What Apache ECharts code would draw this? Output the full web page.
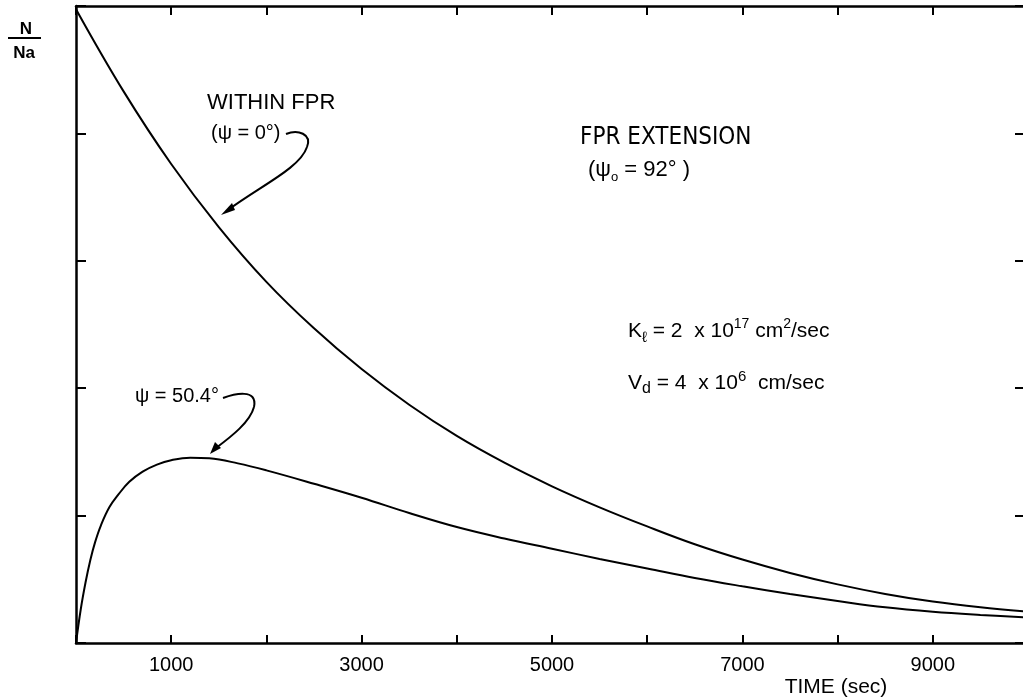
<!DOCTYPE html>
<html>
<head>
<meta charset="utf-8">
<script src="https://cdn.jsdelivr.net/npm/echarts@6/dist/echarts.min.js"></script>
<style>
html,body{margin:0;padding:0;background:#fff;}
#c{width:1023px;height:699px;}
</style>
</head>
<body>
<div id="c"></div>
<script>
// ---- data ----
const xTickLabels = [1000, 3000, 5000, 7000, 9000];
const upperTime = [0, 500, 1000, 1500, 2000, 2500, 3000, 3500, 4000, 4500, 5000, 5500, 6000, 6500, 7000, 7500, 8000, 8500, 9000, 9500, 10000];
const upperN    = [0.995, 0.866, 0.752, 0.653, 0.567, 0.494, 0.430, 0.374, 0.325, 0.283, 0.246, 0.213, 0.183, 0.155, 0.131, 0.110, 0.092, 0.077, 0.065, 0.056, 0.049];
const lowerTime = [0, 50, 100, 150, 200, 260, 350, 450, 560, 700, 850, 1000, 1200, 1400, 1700, 2000, 2500, 3000, 3500, 4000, 4500, 5000, 5500, 6000, 6500, 7000, 7500, 8000, 8500, 9000, 9500, 10000];
const lowerN    = [0, 0.053, 0.095, 0.130, 0.158, 0.184, 0.213, 0.234, 0.253, 0.269, 0.280, 0.287, 0.291, 0.290, 0.282, 0.271, 0.250, 0.228, 0.204, 0.182, 0.164, 0.148, 0.132, 0.117, 0.102, 0.089, 0.077, 0.066, 0.056, 0.049, 0.044, 0.040];

const zip = (a, b) => a.map((v, i) => [v, b[i]]);
const FONT = '"Liberation Sans", Arial, sans-serif';
const NARROW = '"Liberation Sans Narrow", "DejaVu Sans Condensed", "Liberation Sans", sans-serif';

const chart = echarts.init(document.getElementById('c'), null, {renderer: 'canvas'});

const axisLine = {show: true, onZero: false, lineStyle: {color: '#000', width: 2.5}};
const tick = (len) => ({show: true, inside: true, length: len, lineStyle: {color: '#000', width: 2}});

chart.setOption({
  backgroundColor: '#fff',
  animation: false,
  grid: {left: 76, top: 6, width: 952, height: 637, containLabel: false, outerBoundsMode: 'none'},
  xAxis: [
    {type: 'value', position: 'bottom', min: 0, max: 10000, interval: 1000,
     axisLine: axisLine, axisTick: tick(8), splitLine: {show: false},
     axisLabel: {margin: 12, color: '#000', fontSize: 20, fontFamily: FONT,
       formatter: v => xTickLabels.includes(v) ? String(v) : ''}},
    {type: 'value', position: 'top', min: 0, max: 10000, interval: 1000,
     axisLine: axisLine, axisTick: tick(9), splitLine: {show: false}, axisLabel: {show: false}}
  ],
  yAxis: [
    {type: 'value', position: 'left', min: 0, max: 1, interval: 0.2,
     axisLine: axisLine, axisTick: tick(10), splitLine: {show: false}, axisLabel: {show: false}},
    {type: 'value', position: 'right', min: 0, max: 1, interval: 0.2,
     axisLine: {show: false, onZero: false}, axisTick: tick(13), splitLine: {show: false}, axisLabel: {show: false}}
  ],
  series: [
    {type: 'line', name: 'WITHIN FPR (ψ = 0°)', data: zip(upperTime, upperN), xAxisIndex: 0, yAxisIndex: 0,
     showSymbol: false, smooth: 0.4, lineStyle: {color: '#000', width: 2}},
    {type: 'line', name: 'ψ = 50.4°', data: zip(lowerTime, lowerN), xAxisIndex: 0, yAxisIndex: 0,
     showSymbol: false, smooth: 0.4, lineStyle: {color: '#000', width: 2}}
  ],
  graphic: [
    // y-axis label N / Na
    {type: 'text', x: 26, y: 29, style: {text: 'N', font: 'bold 17px ' + FONT, fill: '#000', textAlign: 'center', textVerticalAlign: 'middle'}},
    {type: 'line', shape: {x1: 8, y1: 38, x2: 41, y2: 38}, style: {stroke: '#000', lineWidth: 2}},
    {type: 'text', x: 24, y: 53, style: {text: 'Na', font: 'bold 17px ' + FONT, fill: '#000', textAlign: 'center', textVerticalAlign: 'middle'}},
    // WITHIN FPR
    {type: 'text', x: 207, y: 103, style: {text: 'WITHIN FPR', font: '22px ' + FONT, fill: '#000', textAlign: 'left', textVerticalAlign: 'middle'}},
    {type: 'text', x: 211, y: 133, style: {text: '(ψ = 0°)', font: '20px ' + FONT, fill: '#000', textAlign: 'left', textVerticalAlign: 'middle'}},
    {type: 'bezierCurve', shape: {x1: 286, y1: 134, cpx1: 298, cpy1: 129, cpx2: 312, cpy2: 134, x2: 307, y2: 147}, style: {stroke: '#000', lineWidth: 2, fill: null}},
    {type: 'bezierCurve', shape: {x1: 307, y1: 147, cpx1: 300, cpy1: 168, cpx2: 262, cpy2: 185, x2: 228, y2: 210}, style: {stroke: '#000', lineWidth: 2, fill: null}},
    {type: 'polygon', shape: {points: [[221, 215], [232, 203], [235, 210]]}, style: {fill: '#000'}},
    // psi = 50.4
    {type: 'text', x: 135, y: 396, style: {text: 'ψ = 50.4°', font: '20px ' + FONT, fill: '#000', textAlign: 'left', textVerticalAlign: 'middle'}},
    {type: 'bezierCurve', shape: {x1: 223, y1: 398, cpx1: 234, cpy1: 394, cpx2: 258, cpy2: 388, x2: 254, y2: 407}, style: {stroke: '#000', lineWidth: 2, fill: null}},
    {type: 'bezierCurve', shape: {x1: 254, y1: 407, cpx1: 250, cpy1: 422, cpx2: 232, cpy2: 436, x2: 216, y2: 448}, style: {stroke: '#000', lineWidth: 2, fill: null}},
    {type: 'polygon', shape: {points: [[210, 454], [215, 442], [221, 448]]}, style: {fill: '#000'}},
    // FPR EXTENSION
    {type: 'text', x: 580, y: 138, style: {text: 'FPR EXTENSION', font: '24px ' + NARROW, fill: '#000', textAlign: 'left', textVerticalAlign: 'middle'}},
    {type: 'text', x: 588, y: 170, style: {
      text: '{a|(ψ}{s|o}{a| = 92° )}', fill: '#000', textVerticalAlign: 'middle', textAlign: 'left',
      rich: {a: {fontSize: 22, fontFamily: FONT, lineHeight: 28, verticalAlign: 'middle', fill: '#000'},
             s: {fontSize: 13, fontFamily: FONT, lineHeight: 12, verticalAlign: 'bottom', fill: '#000'}}}},
    // K and Vd
    {type: 'text', x: 628, y: 331, style: {
      text: '{a|K}{s|ℓ}{a| = 2  x 10}{p|17}{a| cm}{p|2}{a|/sec}', fill: '#000', textVerticalAlign: 'middle', textAlign: 'left',
      rich: {a: {fontSize: 21, fontFamily: FONT, lineHeight: 28, verticalAlign: 'middle', fill: '#000'},
             s: {fontSize: 15, fontFamily: FONT, lineHeight: 12, verticalAlign: 'bottom', fill: '#000'},
             p: {fontSize: 14, fontFamily: FONT, lineHeight: 14, verticalAlign: 'top', fill: '#000'}}}},
    {type: 'text', x: 628, y: 383, style: {
      text: '{a|V}{s|d}{a| = 4  x 10}{p|6}{a|  cm/sec}', fill: '#000', textVerticalAlign: 'middle', textAlign: 'left',
      rich: {a: {fontSize: 21, fontFamily: FONT, lineHeight: 28, verticalAlign: 'middle', fill: '#000'},
             s: {fontSize: 16, fontFamily: FONT, lineHeight: 12, verticalAlign: 'bottom', fill: '#000'},
             p: {fontSize: 15, fontFamily: FONT, lineHeight: 14, verticalAlign: 'top', fill: '#000'}}}},
    // axis title
    {type: 'text', x: 836, y: 687, style: {text: 'TIME (sec)', font: '21px ' + FONT, fill: '#000', textAlign: 'center', textVerticalAlign: 'middle'}}
  ]
});
</script>
</body>
</html>
